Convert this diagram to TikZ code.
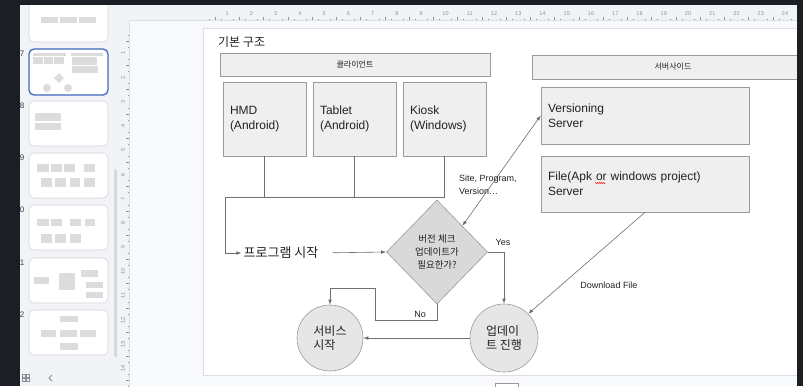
\documentclass[tikz,border=0pt]{standalone}
\usepackage{fontspec}
\setmainfont{Liberation Sans}
\newfontfamily\kr{Noto Sans CJK KR}
\usetikzlibrary{shapes.geometric,arrows.meta,decorations.pathmorphing}

\definecolor{uidark}{HTML}{1B1E25}
\definecolor{panel}{HTML}{F1F3F7}
\definecolor{canvas}{HTML}{F8F9FC}
\definecolor{slideline}{HTML}{DDDFE4}
\definecolor{boxfill}{HTML}{EFEFEF}
\definecolor{boxline}{HTML}{9A9A9A}
\definecolor{checkfill}{HTML}{D9D9D9}
\definecolor{roundfill}{HTML}{E6E6E6}
\definecolor{wiregrey}{HTML}{6F6F6F}
\definecolor{inktext}{HTML}{222222}
\definecolor{selblue}{HTML}{3D68B8}
\definecolor{thumbline}{HTML}{D3D6DC}
\definecolor{minibox}{HTML}{DCDCDC}
\definecolor{tickgrey}{HTML}{8C9099}
\definecolor{pagegrey}{HTML}{3A3D44}
\definecolor{scrollgrey}{HTML}{D5D8DE}

\tikzset{
  box/.style={draw=boxline, fill=boxfill, line width=0.6pt, text=inktext},
  headbox/.style={box, minimum height=23pt, font=\kr\fontsize{8}{9}\selectfont},
  device/.style={box, minimum width=83pt, minimum height=74pt, inner xsep=7pt,
    text width=69pt, align=left, font=\fontsize{12}{15}\selectfont},
  server/.style={box, minimum width=208pt, inner xsep=7pt, text width=194pt,
    align=left, font=\fontsize{12}{15}\selectfont},
  check/.style={diamond, draw=boxline, fill=checkfill, line width=0.6pt,
    minimum width=101pt, minimum height=104pt, inner sep=0pt, align=center,
    text=inktext, font=\kr\fontsize{9.5}{13}\selectfont},
  roundnode/.style={circle, draw=boxline, fill=roundfill, line width=0.6pt,
    inner sep=0pt, align=left, text=inktext, font=\kr\fontsize{12}{14}\selectfont},
  wire/.style={draw=wiregrey, line width=0.6pt},
  flow/.style={wire, -{Latex[length=5pt,width=3.6pt]}},
  note/.style={inner sep=0pt, text=inktext, font=\fontsize{9}{13}\selectfont},
  spelling/.style={draw=red, line width=0.4pt, decorate,
    decoration={zigzag, segment length=2pt, amplitude=0.6pt}},
  tick/.style={draw=tickgrey, line width=0.4pt},
  rulernum/.style={inner sep=0pt, text=tickgrey, font=\fontsize{5.5}{6}\selectfont},
  thumb/.style={draw=thumbline, fill=white, rounded corners=5pt, line width=0.6pt},
  pagenum/.style={inner sep=0pt, text=pagegrey, font=\fontsize{8}{9}\selectfont},
  mini/.style={fill=minibox}
}

\begin{document}
\begin{tikzpicture}[x=1pt,y=-1pt]
\useasboundingbox (0,0) rectangle (803,386);

% editor frame
\fill[uidark] (0,0) rectangle (803,386);
\fill[panel] (20,5) rectangle (797,386);
\fill[canvas] (130,21) rectangle (797,386);
\draw[fill=white, draw=slideline, line width=0.6pt] (203,28) rectangle (820,375);
\draw[slideline] (130,20.5) -- (797,20.5);
\draw[slideline] (129.5,20) -- (129.5,386);
\draw[draw=boxline, fill=white] (495,383) rectangle (518,392);

% rulers
\foreach \i in {1,...,24}
  \node[rulernum] at ({203+24.25*\i},14) {\i};
\foreach \i in {0,...,24} {
  \draw[tick] ({203+24.25*(\i+0.25)},20) -- ++(0,-1.5);
  \draw[tick] ({203+24.25*(\i+0.5)},20) -- ++(0,-3);
  \draw[tick] ({203+24.25*(\i+0.75)},20) -- ++(0,-1.5);
}
\foreach \j in {1,...,14}
  \node[rulernum, rotate=90] at (123,{29+24.25*\j}) {\j};
\foreach \j in {0,...,14} {
  \draw[tick] (129,{29+24.25*(\j+0.25)}) -- ++(-1.5,0);
  \draw[tick] (129,{29+24.25*(\j+0.5)}) -- ++(-3,0);
  \draw[tick] (129,{29+24.25*(\j+0.75)}) -- ++(-1.5,0);
}

% slide list
\begin{scope}
\clip (20,5) rectangle (125,386);
\draw[thumb] (29,-10) rectangle (108,42);
\foreach \ty/\num in {101/8,153/9,205/10,258/11,310/12} {
  \draw[thumb] (29,\ty) rectangle (108,\ty+45);
  \node[pagenum, anchor=east] at (24.5,\ty+5) {\num};
}
\draw[thumb, draw=selblue, line width=1.3pt] (29,49) rectangle (108,95);
\node[pagenum, anchor=east] at (24.5,54) {7};
\foreach \ax/\ay/\bx/\by in {41/17/58/23, 60/17/77/23, 79/17/96/23,
    33/53/66/56, 71/53/103/56, 33/57/43/64, 44/57/53/64, 54/57/64/64,
    72/57/97/65, 72/66/98/73,
    35/113/61/121, 35/123/61/130,
    37/164/49/172, 51/164/62/172, 64/164/75/172, 84/164/95/172,
    41/178/52/187, 55/178/66/187, 70/178/80/187, 84/178/95/187,
    37/219/49/226, 51/219/62/226, 70/219/81/226, 85/219/95/226,
    41/234/52/243, 55/234/66/243, 70/234/81/243,
    34/277/49/284, 59/273/75/290, 81/270/98/277, 86/282/103/288, 86/292/103/298,
    60/316/78/322, 41/330/56/337, 60/330/77/337, 80/330/96/337, 60/343/78/350}
  \fill[mini] (\ax,\ay) rectangle (\bx,\by);
\fill[mini] (59,73) -- (64,78) -- (59,83) -- (54,78) -- cycle;
\fill[mini] (47,88) circle (4);
\fill[mini] (68,88) circle (4);
\end{scope}
\fill[scrollgrey, rounded corners=1.5pt] (114,169) rectangle (117,357);

% bottom icons
\foreach \gx/\gy in {22/374, 26.5/374, 22/378.5, 26.5/378.5}
  \draw[draw=tickgrey, line width=0.6pt] (\gx,\gy) rectangle ++(3,3);
\draw[draw=tickgrey, line width=0.8pt] (52,375) -- (49,378) -- (52,381);

% diagram
\node[font=\kr\fontsize{12}{14}\selectfont, text=inktext, anchor=west, inner sep=0pt] (title) at (218,42) {기본 구조};
\node[headbox, minimum width=270pt] (client) at (355,64.5) {클라이언트};
\node[headbox, minimum width=282pt, minimum height=24pt] (serverside) at (673,67) {서버사이드};

\node[device] (hmd) at (264.5,119) {HMD\\(Android)};
\node[device] (tablet) at (354.5,119) {Tablet\\(Android)};
\node[device] (kiosk) at (444.5,119) {Kiosk\\(Windows)};

\node[server, minimum height=57pt] (versioning) at (645,115.5) {Versioning\\Server};
\node[server, minimum height=56pt] (fileserver) at (645,184) {File(Apk or windows project)\\Server};
\draw[spelling] ([xshift=54.5pt, yshift=1pt]fileserver.west) -- ([xshift=65pt, yshift=1pt]fileserver.west);

\node[font=\kr\fontsize{13}{15}\selectfont, text=inktext, inner sep=0pt] (start) at (281,253) {프로그램 시작};
\node[check] (needupdate) at (437,252) {버전 체크\\업데이트가\\필요한가?};
\node[roundnode, minimum size=66pt] (service) at (330,338) {서비스\\시작};
\node[roundnode, minimum size=68pt] (update) at (504,338) {업데이\\트 진행};

\coordinate (bus) at (225,197);
\coordinate (nojog) at (375,288);

\draw[wire] (hmd.south) -- (hmd.south |- bus);
\draw[wire] (tablet.south) -- (tablet.south |- bus);
\draw[flow] (kiosk.south) |- (bus) |- ([xshift=-2pt]start.west);
\draw[flow, shorten <=14pt] (start.east) -- (needupdate.west);
\draw[flow] (needupdate.east) -| (update.north);
\draw[flow] (needupdate.south) -- ++(0,16) -| (nojog) -| (service.north);
\draw[flow] (update.west) -- (service.east);
\draw[wire, {Latex[length=5pt,width=3.6pt]}-{Latex[length=5pt,width=3.6pt]}] (needupdate.north east) -- (versioning.west);
\draw[flow] (fileserver.south) -- (update.north east);

\node[note, anchor=west, align=left] (sitelabel) at (459,185) {Site, Program,\\Version…};
\node[note] (yes) at (503,242) {Yes};
\node[note] (no) at (420,314) {No};
\node[note] (download) at (609,285) {Download File};

% window edges
\fill[uidark] (0,0) rectangle (803,5);
\fill[uidark] (797,0) rectangle (803,386);
\end{tikzpicture}
\end{document}
